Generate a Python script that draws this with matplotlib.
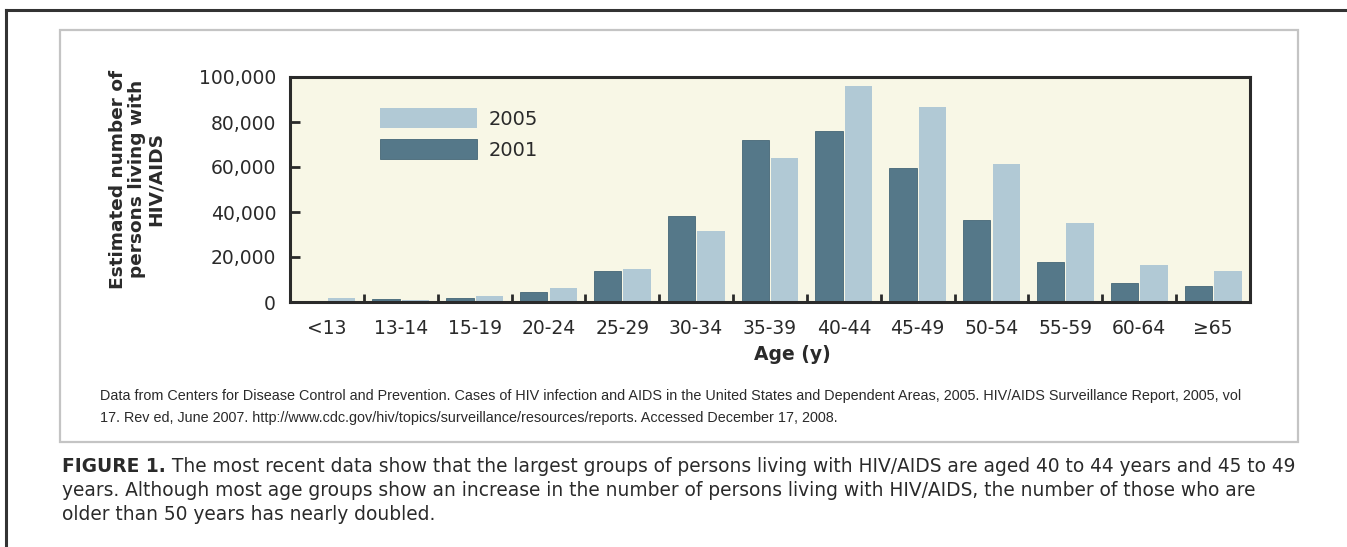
import numpy as np
import matplotlib
matplotlib.use("Agg")
import matplotlib.pyplot as plt
from matplotlib.lines import Line2D
from matplotlib.patches import Rectangle

# age groups and estimated persons living with HIV/AIDS
ages = ["<13", "13-14", "15-19", "20-24", "25-29", "30-34", "35-39",
        "40-44", "45-49", "50-54", "55-59", "60-64", "\u226565"]
y2001 = [200, 1300, 1800, 4500, 13900, 38200, 72000,
         76000, 59400, 36400, 17900, 8600, 7100]
y2005 = [1800, 900, 2700, 6100, 14500, 31500, 63900,
         96000, 86500, 61300, 35000, 16400, 13900]
yticks = [0, 20000, 40000, 60000, 80000, 100000]

ylabel = "Estimated number of\npersons living with\nHIV/AIDS"
xlabel = "Age (y)"
source = ("Data from Centers for Disease Control and Prevention. Cases of HIV infection and AIDS in the "
          "United States and Dependent Areas, 2005. HIV/AIDS Surveillance Report, 2005, vol\n"
          "17. Rev ed, June 2007. http://www.cdc.gov/hiv/topics/surveillance/resources/reports. "
          "Accessed December 17, 2008.")
fig_head = "FIGURE 1."
caption = [" The most recent data show that the largest groups of persons living with HIV/AIDS are aged 40 to 44 years and 45 to 49",
           "years. Although most age groups show an increase in the number of persons living with HIV/AIDS, the number of those who are",
           "older than 50 years has nearly doubled."]

dark = "#557889"
dark_edge = "#446677"
light = "#b1c9d5"
cream = "#f8f7e6"
ink = "#2a2a2a"

W, H = 1347, 547
fig = plt.figure(figsize=(W / 100, H / 100), dpi=100)
fig.patch.set_facecolor("white")

def fx(px):
    return px / W

def fy(py):
    return 1 - py / H

# outer frame (top + left) and light inner box
fig.add_artist(Line2D([fx(6), 1], [fy(10), fy(10)], color="#333333", lw=2.2))
fig.add_artist(Line2D([fx(6), fx(6)], [fy(10), 0], color="#333333", lw=2.2))
fig.add_artist(Rectangle((fx(60), fy(442)), fx(1298) - fx(60), fy(30) - fy(442),
                         fill=False, ec="#c4c4c4", lw=1.6))

ax = fig.add_axes([fx(290), fy(302), fx(1250) - fx(290), fy(77) - fy(302)])
ax.set_facecolor(cream)

x = np.arange(len(ages))
b1 = ax.bar(x - 0.2, y2001, 0.37, color=dark, ec=dark_edge, lw=0.6,
            label="2001", zorder=2)
b2 = ax.bar(x + 0.2, y2005, 0.37, color=light, label="2005", zorder=2)

ax.set_xlim(-0.5, len(ages) - 0.5)
ax.set_ylim(0, 100000)
ax.set_yticks(yticks)
ax.set_yticklabels(["{:,}".format(v) for v in yticks])
ax.set_xticks(x)
ax.set_xticklabels(ages)
ax.set_xticks(x[:-1] + 0.5, minor=True)

ax.tick_params(axis="y", direction="in", length=7, width=2, color=ink,
               labelsize=13.5, pad=10, labelcolor=ink)
ax.tick_params(axis="x", which="major", length=0, labelsize=13.5, pad=12, labelcolor=ink)
ax.tick_params(axis="x", which="minor", direction="in", length=6, width=2, color=ink)
for s in ax.spines.values():
    s.set_linewidth(2.2)
    s.set_color(ink)

leg = ax.legend([b2, b1], ["2005", "2001"], loc="upper left",
                bbox_to_anchor=(0.094, 0.862), frameon=False, fontsize=14,
                handlelength=5.0, handleheight=1.2, labelspacing=0.55,
                handletextpad=0.55, borderpad=0, borderaxespad=0)
for t in leg.get_texts():
    t.set_color(ink)

fig.text(fx(137), fy(179), ylabel, rotation=90, ha="center", va="center",
         multialignment="center", fontsize=13.3, fontweight="bold",
         color=ink, linespacing=1.08)
fig.text(fx(792), fy(355), xlabel, ha="center", va="center",
         fontsize=13.5, fontweight="bold", color=ink)

fig.text(fx(100), fy(407), source, ha="left", va="center", fontsize=10.4,
         family="Liberation Sans", color=ink, linespacing=1.7)

# caption: bold lead-in followed by regular text
cap_fs = 13.4
head = fig.text(fx(62), fy(466), fig_head, ha="left", va="center",
                fontsize=cap_fs, fontweight="bold", color=ink)
ax.annotate(caption[0], xy=(1, 0), xycoords=head, ha="left", va="bottom",
            fontsize=cap_fs, color=ink, annotation_clip=False)
fig.text(fx(62), fy(490), caption[1], ha="left", va="center", fontsize=cap_fs, color=ink)
fig.text(fx(62), fy(514), caption[2], ha="left", va="center", fontsize=cap_fs, color=ink)

fig.savefig("out.png", dpi=100, facecolor="white")
